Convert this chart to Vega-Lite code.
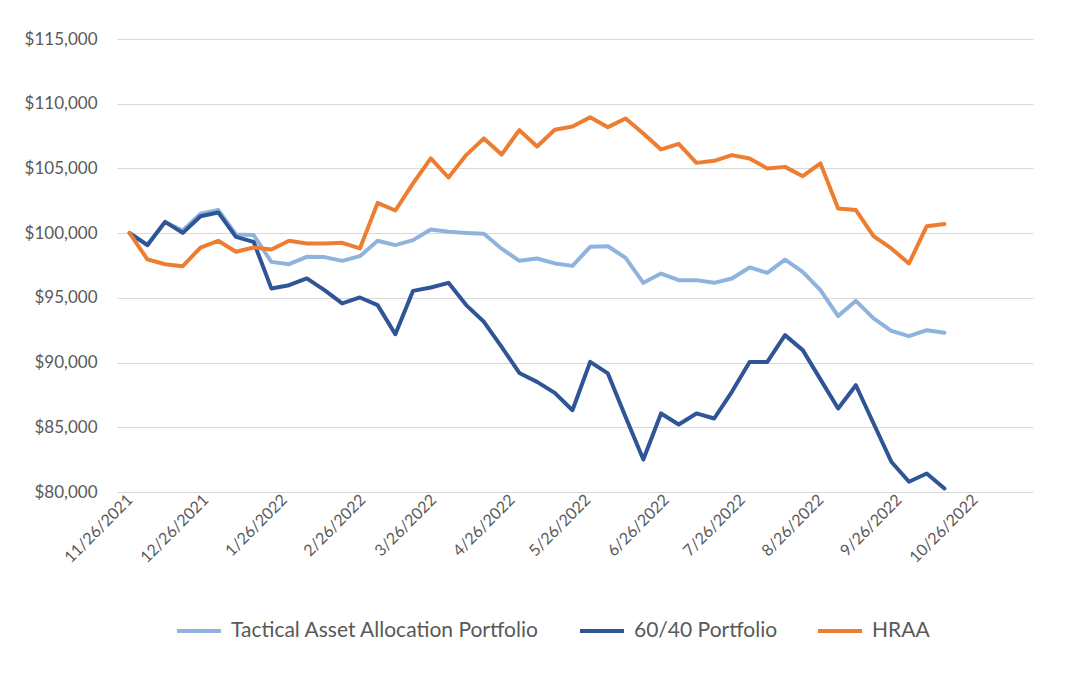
{
  "$schema": "https://vega.github.io/schema/vega-lite/v6.json",
  "autosize": "none",
  "width": 916,
  "height": 453,
  "padding": {"left": 117, "top": 39, "right": 47, "bottom": 183},
  "background": "white",
  "config": {
    "view": {"stroke": null},
    "font": "Lato",
    "axis": {"labelFont": "Lato", "labelColor": "#595959", "titleFontSize": 0}
  },
  "data": {"values": [
    {"date": "2021-11-26", "taa": 100000, "s6040": 100000, "hraa": 100000},
    {"date": "2021-12-03", "taa": 99100, "s6040": 99070, "hraa": 97970},
    {"date": "2021-12-10", "taa": 100850, "s6040": 100870, "hraa": 97600},
    {"date": "2021-12-17", "taa": 100200, "s6040": 100020, "hraa": 97450},
    {"date": "2021-12-24", "taa": 101500, "s6040": 101300, "hraa": 98890},
    {"date": "2021-12-31", "taa": 101800, "s6040": 101600, "hraa": 99410},
    {"date": "2022-01-07", "taa": 99900, "s6040": 99710, "hraa": 98560},
    {"date": "2022-01-14", "taa": 99850, "s6040": 99330, "hraa": 98890},
    {"date": "2022-01-21", "taa": 97780, "s6040": 95730, "hraa": 98740},
    {"date": "2022-01-28", "taa": 97600, "s6040": 95980, "hraa": 99410},
    {"date": "2022-02-04", "taa": 98170, "s6040": 96500, "hraa": 99200},
    {"date": "2022-02-11", "taa": 98150, "s6040": 95600, "hraa": 99200},
    {"date": "2022-02-18", "taa": 97860, "s6040": 94570, "hraa": 99250},
    {"date": "2022-02-25", "taa": 98220, "s6040": 95030, "hraa": 98820},
    {"date": "2022-03-04", "taa": 99410, "s6040": 94440, "hraa": 102340},
    {"date": "2022-03-11", "taa": 99070, "s6040": 92190, "hraa": 101750},
    {"date": "2022-03-18", "taa": 99460, "s6040": 95540, "hraa": 103840},
    {"date": "2022-03-25", "taa": 100280, "s6040": 95800, "hraa": 105770},
    {"date": "2022-04-01", "taa": 100100, "s6040": 96160, "hraa": 104300},
    {"date": "2022-04-08", "taa": 100020, "s6040": 94440, "hraa": 106030},
    {"date": "2022-04-15", "taa": 99950, "s6040": 93150, "hraa": 107320},
    {"date": "2022-04-22", "taa": 98800, "s6040": 91210, "hraa": 106070},
    {"date": "2022-04-29", "taa": 97860, "s6040": 89200, "hraa": 107960},
    {"date": "2022-05-06", "taa": 98040, "s6040": 88510, "hraa": 106700},
    {"date": "2022-05-13", "taa": 97660, "s6040": 87660, "hraa": 107990},
    {"date": "2022-05-20", "taa": 97470, "s6040": 86320, "hraa": 108240},
    {"date": "2022-05-27", "taa": 98940, "s6040": 90050, "hraa": 108960},
    {"date": "2022-06-03", "taa": 98990, "s6040": 89160, "hraa": 108190},
    {"date": "2022-06-10", "taa": 98090, "s6040": 85800, "hraa": 108860},
    {"date": "2022-06-17", "taa": 96160, "s6040": 82510, "hraa": 107700},
    {"date": "2022-06-24", "taa": 96880, "s6040": 86070, "hraa": 106470},
    {"date": "2022-07-01", "taa": 96370, "s6040": 85220, "hraa": 106900},
    {"date": "2022-07-08", "taa": 96370, "s6040": 86070, "hraa": 105430},
    {"date": "2022-07-15", "taa": 96160, "s6040": 85680, "hraa": 105590},
    {"date": "2022-07-22", "taa": 96500, "s6040": 87740, "hraa": 106030},
    {"date": "2022-07-29", "taa": 97350, "s6040": 90050, "hraa": 105770},
    {"date": "2022-08-05", "taa": 96930, "s6040": 90050, "hraa": 105000},
    {"date": "2022-08-12", "taa": 97960, "s6040": 92120, "hraa": 105120},
    {"date": "2022-08-19", "taa": 97010, "s6040": 90960, "hraa": 104400},
    {"date": "2022-08-26", "taa": 95600, "s6040": 88700, "hraa": 105390},
    {"date": "2022-09-02", "taa": 93590, "s6040": 86450, "hraa": 101910},
    {"date": "2022-09-09", "taa": 94770, "s6040": 88250, "hraa": 101780},
    {"date": "2022-09-16", "taa": 93410, "s6040": 85290, "hraa": 99770},
    {"date": "2022-09-23", "taa": 92450, "s6040": 82340, "hraa": 98820},
    {"date": "2022-09-30", "taa": 92040, "s6040": 80790, "hraa": 97660},
    {"date": "2022-10-07", "taa": 92500, "s6040": 81430, "hraa": 100540},
    {"date": "2022-10-14", "taa": 92300, "s6040": 80270, "hraa": 100700}
  ]},
  "encoding": {
    "x": {
      "field": "date", "type": "temporal",
      "scale": {"type": "utc", "domain": [
        {"year": 2021, "month": 11, "date": 21, "utc": true},
        {"year": 2022, "month": 11, "date": 18, "utc": true}
      ]},
      "axis": {
        "title": null, "domain": false, "ticks": false, "grid": false,
        "format": "%-m/%-d/%Y", "labelAngle": -45, "labelAlign": "right", "labelBaseline": "middle",
        "labelFontSize": 16,
        "labelPadding": 5, "labelOverlap": false, "labelBound": false, "labelFlush": false,
        "values": [
          {"year": 2021, "month": 11, "date": 26, "utc": true},
          {"year": 2021, "month": 12, "date": 26, "utc": true},
          {"year": 2022, "month": 1, "date": 26, "utc": true},
          {"year": 2022, "month": 2, "date": 26, "utc": true},
          {"year": 2022, "month": 3, "date": 26, "utc": true},
          {"year": 2022, "month": 4, "date": 26, "utc": true},
          {"year": 2022, "month": 5, "date": 26, "utc": true},
          {"year": 2022, "month": 6, "date": 26, "utc": true},
          {"year": 2022, "month": 7, "date": 26, "utc": true},
          {"year": 2022, "month": 8, "date": 26, "utc": true},
          {"year": 2022, "month": 9, "date": 26, "utc": true},
          {"year": 2022, "month": 10, "date": 26, "utc": true}
        ]
      }
    },
    "color": {
      "type": "nominal",
      "scale": {
        "domain": ["Tactical Asset Allocation Portfolio", "60/40 Portfolio", "HRAA"],
        "range": ["#8EB4DE", "#2F5597", "#ED7D31"]
      },
      "legend": {
        "title": null, "orient": "none", "direction": "horizontal", "legendX": 58, "legendY": 568,
        "symbolType": "stroke", "symbolSize": 1936, "symbolStrokeWidth": 4,
        "labelFontSize": 21, "labelColor": "#595959", "labelFont": "Lato",
        "labelOffset": 8, "columnPadding": 32, "labelLimit": 500
      }
    }
  },
  "layer": [
    {
      "mark": {"type": "line", "strokeWidth": 4, "strokeJoin": "round", "strokeCap": "round"},
      "encoding": {
        "y": {
          "field": "taa", "type": "quantitative",
          "scale": {"domain": [80000, 115000], "nice": false, "zero": false},
          "axis": {
            "title": null, "domain": false, "ticks": false, "format": "$,.0f",
            "labelFontSize": 17,
            "values": [80000, 85000, 90000, 95000, 100000, 105000, 110000, 115000],
            "gridColor": "#d9d9d9", "gridWidth": 1, "labelPadding": 20
          }
        },
        "color": {"datum": "Tactical Asset Allocation Portfolio"}
      }
    },
    {
      "mark": {"type": "line", "strokeWidth": 4, "strokeJoin": "round", "strokeCap": "round"},
      "encoding": {
        "y": {"field": "s6040", "type": "quantitative"},
        "color": {"datum": "60/40 Portfolio"}
      }
    },
    {
      "mark": {"type": "line", "strokeWidth": 4, "strokeJoin": "round", "strokeCap": "round"},
      "encoding": {
        "y": {"field": "hraa", "type": "quantitative"},
        "color": {"datum": "HRAA"}
      }
    }
  ]
}
